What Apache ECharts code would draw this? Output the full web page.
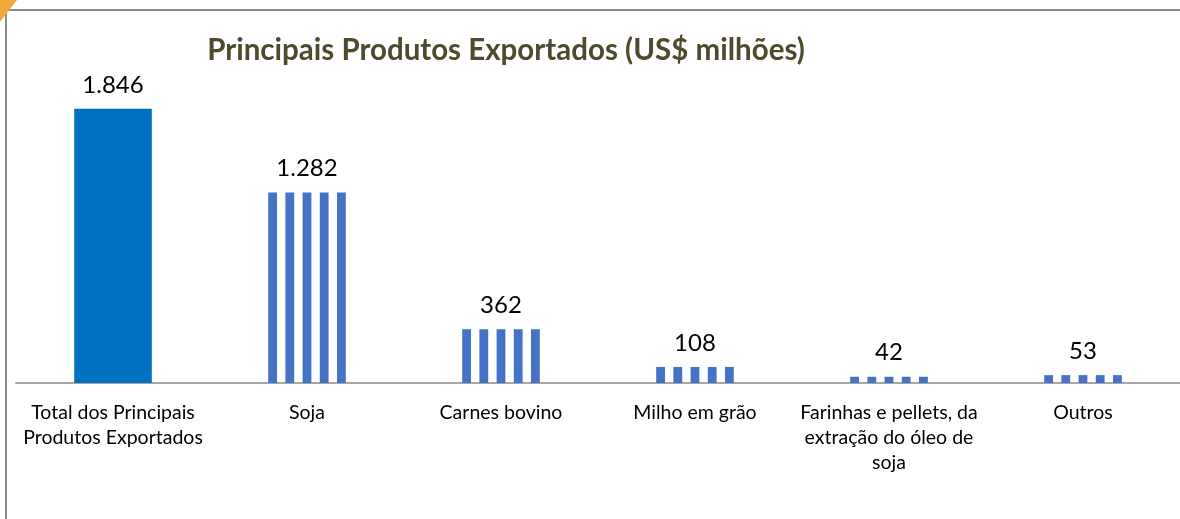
<!DOCTYPE html>
<html>
<head>
<meta charset="utf-8">
<script src="https://cdn.jsdelivr.net/npm/echarts@6/dist/echarts.min.js"></script>
<style>
  html, body { margin: 0; padding: 0; background: #fff; }
  #chart { width: 1180px; height: 519px; }
</style>
</head>
<body>
<div id="chart"></div>
<script>
var titleText = 'Principais Produtos Exportados (US$ milhões)';
var categories = [
  'Total dos Principais\nProdutos Exportados',
  'Soja',
  'Carnes bovino',
  'Milho em grão',
  'Farinhas e pellets, da\nextração do óleo de\nsoja',
  'Outros'
];
var values = [1846, 1282, 362, 108, 42, 53];

var fontName = 'Lato, "Open Sans", sans-serif';

// 1846 -> "1.846"
function fmt(v) {
  return String(v).replace(/\B(?=(\d{3})+(?!\d))/g, '.');
}

function renderBar(params, api) {
  var idx = params.dataIndex;
  var top = api.coord([api.value(0), api.value(1)]);
  var base = api.coord([api.value(0), 0]);
  var bw = api.size([1, 0])[0] * 0.4;
  var left = top[0] - bw / 2;
  var h = base[1] - top[1];
  var children = [];
  if (idx === 0) {
    children.push({
      type: 'rect',
      shape: { x: left, y: top[1], width: bw, height: h },
      style: { fill: '#0070C0' }
    });
  } else {
    // vertical stripes: 5 stripes, 4 gaps
    var sw = bw * 9 / 79.4;
    var step = bw * 17.6 / 79.4;
    for (var k = 0; k < 5; k++) {
      children.push({
        type: 'rect',
        shape: { x: left + k * step, y: top[1], width: sw, height: h },
        style: { fill: '#4472C4' }
      });
    }
  }
  children.push({
    type: 'text',
    x: top[0],
    y: top[1] - 12,
    style: {
      text: fmt(api.value(1)),
      fill: '#000',
      font: '24px ' + fontName,
      align: 'center',
      verticalAlign: 'bottom'
    }
  });
  return { type: 'group', children: children };
}

var chart = echarts.init(document.getElementById('chart'));
chart.setOption({
  animation: false,
  backgroundColor: '#fff',
  title: {
    text: titleText,
    left: 501,
    top: 30,
    textAlign: 'center',
    textStyle: {
      fontFamily: fontName,
      fontSize: 29.5,
      fontWeight: 'bold',
      color: '#4F4A2B'
    }
  },
  graphic: [
    {
      type: 'rect',
      shape: { x: 6, y: 10, width: 1190, height: 530 },
      style: { fill: 'none', stroke: '#8c8c8c', lineWidth: 2 },
      z: 100
    },
    {
      type: 'polygon',
      shape: { points: [[0, 0], [17, 0], [0, 22]] },
      style: { fill: '#F2A93B' },
      z: 101
    }
  ],
  grid: { left: 16, width: 1167, top: 86, bottom: 136 },
  xAxis: {
    type: 'category',
    data: categories,
    axisLine: { lineStyle: { color: '#a6a6a6', width: 2 } },
    axisTick: { show: false },
    axisLabel: {
      interval: 0,
      margin: 17,
      color: '#000',
      fontFamily: fontName,
      fontSize: 19.5,
      lineHeight: 25
    }
  },
  yAxis: {
    type: 'value',
    min: 0,
    max: 2000,
    show: false,
    splitLine: { show: false }
  },
  series: [{
    type: 'custom',
    renderItem: renderBar,
    encode: { x: 0, y: 1 },
    data: values.map(function (v, i) { return [i, v]; })
  }]
});
</script>
</body>
</html>
